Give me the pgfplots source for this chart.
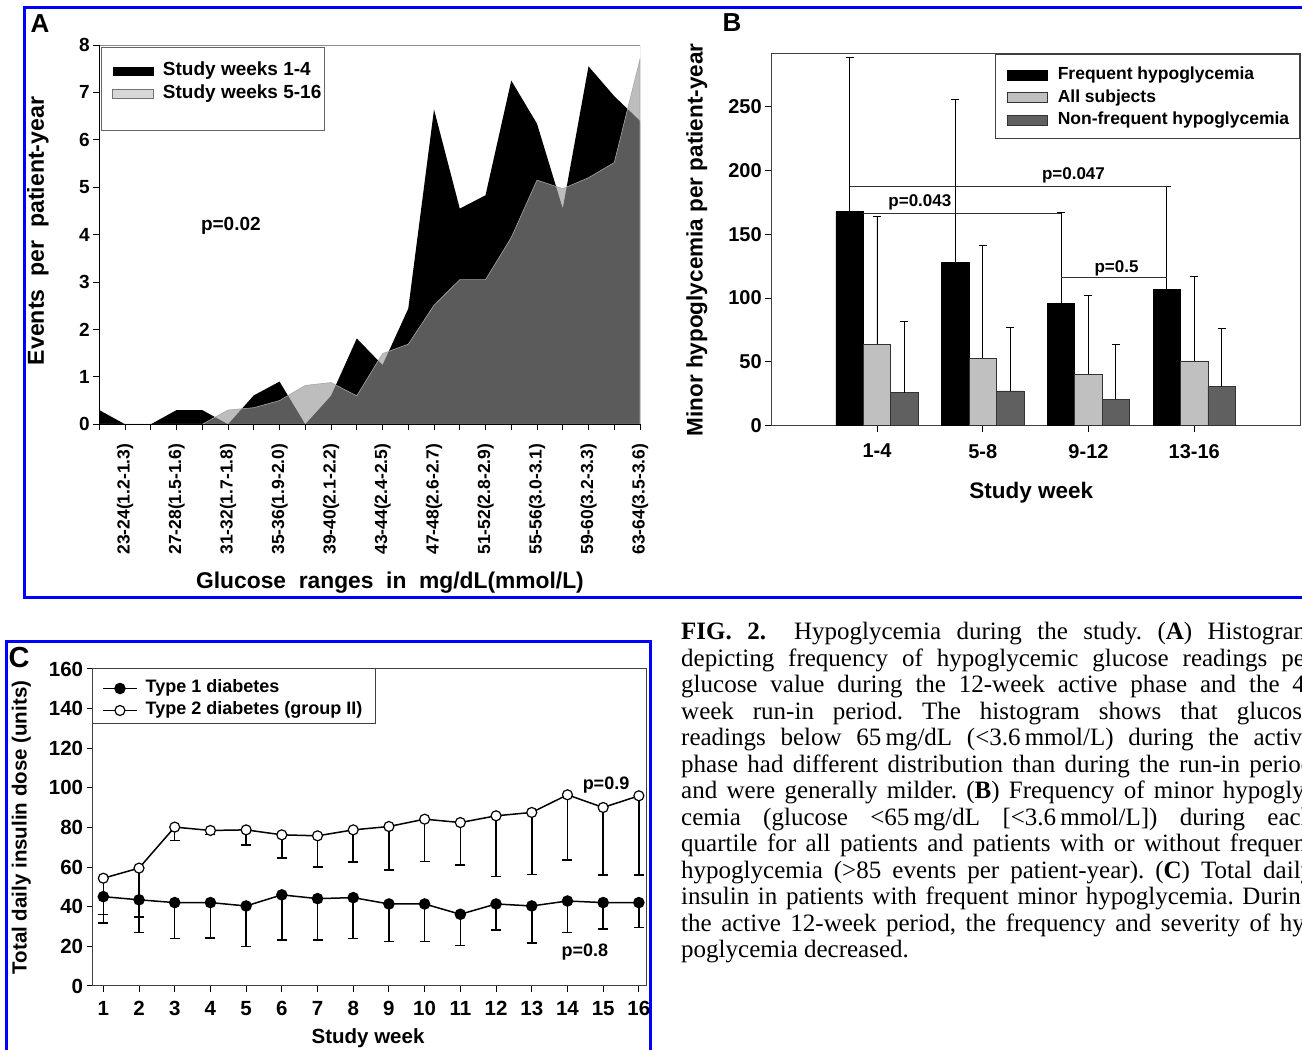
\documentclass[border=0pt]{standalone}
\usepackage{fontspec}
\setmainfont{Liberation Sans}
\newfontfamily\capfont{Liberation Serif}
\usepackage{pgfplots}
\pgfplotsset{compat=1.18}
\definecolor{agray}{RGB}{149,149,149}
\definecolor{lgray}{RGB}{192,192,192}
\definecolor{dgray}{RGB}{96,96,96}
\definecolor{fblue}{RGB}{0,0,255}
\newcommand{\fs}[1]{\fontsize{#1}{#1}\selectfont\bfseries}
\newcommand{\cf}{\capfont\fontsize{25}{26.5}\selectfont\frenchspacing}
\begin{document}
\begin{tikzpicture}
\useasboundingbox (0,0) rectangle (1302pt,1050pt);
\clip (0,0) rectangle (1302pt,1050pt);
\fill[white] (0,0) rectangle (1302pt,1050pt);
\draw[fblue, line width=3pt] (24.5pt,1042.5pt) rectangle (1320pt,452.5pt);
\draw[fblue, line width=3pt] (6.5pt,408pt) rectangle (650pt,-10pt);
\node[font=\fs{26}] at (40pt,1026pt) {A};
\node[font=\fs{26}] at (732pt,1027pt) {B};
\node[font=\fs{29}] at (19pt,392pt) {C};

% ---------------- Panel A
\begin{axis}[at={(99.3pt,625.7pt)}, anchor=south west, scale only axis,
  width=540.7pt, height=379.3pt, xmin=0, xmax=21, ymin=0, ymax=8,
  axis x line*=bottom, axis y line*=left, axis on top,
  axis line style={black, line width=0.8pt},
  tick style={black, line width=0.8pt}, tick align=outside,
  major tick length=6pt, minor tick length=6pt,
  ytick={0,...,8}, xtick={1,3,...,21}, minor xtick={0,2,...,20},
  xticklabels={23-24(1.2-1.3),27-28(1.5-1.6),31-32(1.7-1.8),35-36(1.9-2.0),39-40(2.1-2.2),43-44(2.4-2.5),47-48(2.6-2.7),51-52(2.8-2.9),55-56(3.0-3.1),59-60(3.2-3.3),63-64(3.5-3.6)},
  /pgf/number format/assume math mode=true,
  yticklabel style={font=\fs{19}},
  xticklabel style={font=\fs{17.5}, yshift=-10pt, rotate=90, anchor=east},
  xlabel={Glucose\ \ ranges\ \ in\ \ mg/dL(mmol/L)},
  ylabel={Events\ \ per\ \ patient-year},
  xlabel style={font=\fs{22.8}, at={(axis description cs:0.5376,-0.418)}, anchor=center},
  ylabel style={font=\fs{23.1}, at={(axis description cs:-0.1134,0.5096)}, anchor=center},
  legend style={draw=none, fill=none, at={(axis description cs:0.0179,0.9007)}, anchor=west,
    font=\fs{19}, column sep=9pt, row sep=4pt, nodes={inner sep=0pt, text height=14pt, text depth=5pt}},
  legend cell align=left]
\addplot[fill=black, draw=none, legend image code/.code={\fill[black] (0pt,-4.5pt) rectangle (41pt,4.5pt);}]
 coordinates {(0,0.30) (1,0) (2,0) (3,0.30) (4,0.30) (5,0) (6,0.61) (7,0.90) (8,0) (9,0.60) (10,1.81) (11,1.25) (12,2.44) (13,6.64) (14,4.55) (15,4.83) (16,7.25) (17,6.34) (18,4.55) (19,7.55) (20,6.92) (21,6.40)} \closedcycle;
\addlegendentry{Study weeks 1-4}
\addplot[fill=agray, fill opacity=0.616, draw=black!35, draw opacity=1, line width=0.6pt,
  legend image code/.code={\draw[black!55, fill=lgray, line width=0.8pt] (0pt,-4.5pt) rectangle (41pt,4.5pt);}]
 coordinates {(0,0) (1,0) (2,0) (3,0) (4,0) (5,0.30) (6,0.35) (7,0.50) (8,0.82) (9,0.88) (10,0.60) (11,1.49) (12,1.69) (13,2.51) (14,3.05) (15,3.05) (16,3.94) (17,5.15) (18,4.97) (19,5.20) (20,5.52) (21,7.70)} \closedcycle;
\addlegendentry{Study weeks 5-16}
\draw[black!45, line width=0.8pt] (rel axis cs:0,1) -- (rel axis cs:1,1) -- (rel axis cs:1,0);
\draw[black!60, line width=0.8pt] (rel axis cs:0.0031,0.7759) rectangle (rel axis cs:0.4156,0.9947);
\node[font=\fs{19}] at (axis cs:5.11,4.19) {p=0.02};
\end{axis}

% ---------------- Panel B
\begin{axis}[at={(771.2pt,624.3pt)}, anchor=south west, scale only axis,
  width=528.8pt, height=372.6pt, xmin=0, xmax=5, ymin=0, ymax=292,
  xtick={1,2,3,4}, xticklabels={1-4,5-8,9-12,13-16}, ytick={0,50,...,250},
  xtick pos=bottom, ytick pos=left, tick align=outside, major tick length=6pt,
  axis line style={black!75, line width=0.8pt}, tick style={black, line width=0.8pt},
  /pgf/number format/assume math mode=true,
  ticklabel style={font=\fs{20}},
  xticklabel style={yshift=-9pt},
  xlabel={Study week}, ylabel={Minor hypoglycemia per patient-year},
  xlabel style={font=\fs{22.5}, at={(axis description cs:0.4917,-0.1793)}, anchor=center},
  ylabel style={font=\fs{22.5}, at={(axis description cs:-0.1406,0.4985)}, anchor=center},
  legend style={draw=none, fill=none, at={(axis description cs:0.4402,0.881)}, anchor=west,
    font=\fs{17.5}, column sep=10pt, row sep=5pt, nodes={inner sep=0pt, text height=13.5pt, text depth=4pt}},
  legend cell align=left,
  every error bar/.style={}]
\addplot[ybar, bar width=27.4pt, bar shift=0pt, fill=black, draw=black, line width=0.6pt,
  legend image code/.code={\draw[black, fill=black] (0pt,-5pt) rectangle (40pt,5pt);},
  error bars/.cd, y dir=plus, y explicit, error bar style={line width=0.8pt, black},
  error mark options={rotate=90, line width=0.8pt, mark size=4pt, black}]
 coordinates {(0.741,167.7) += (0,121.0) (1.741,128.0) += (0,127.7) (2.741,95.6) += (0,71.6) (3.741,107.1) += (0,80.7)};
\addlegendentry{Frequent hypoglycemia}
\addplot[ybar, bar width=27.4pt, bar shift=0pt, fill=lgray, draw=black!80, line width=0.6pt,
  legend image code/.code={\draw[black!80, fill=lgray] (0pt,-5pt) rectangle (40pt,5pt);},
  error bars/.cd, y dir=plus, y explicit, error bar style={line width=0.8pt, black},
  error mark options={rotate=90, line width=0.8pt, mark size=4pt, black}]
 coordinates {(1,64.0) += (0,100.3) (2,52.8) += (0,88.8) (3,40.2) += (0,61.7) (4,50.7) += (0,66.6)};
\addlegendentry{All subjects}
\addplot[ybar, bar width=27.4pt, bar shift=0pt, fill=dgray, draw=black!80, line width=0.6pt,
  legend image code/.code={\draw[black!80, fill=dgray] (0pt,-5pt) rectangle (40pt,5pt);},
  error bars/.cd, y dir=plus, y explicit, error bar style={line width=0.8pt, black},
  error mark options={rotate=90, line width=0.8pt, mark size=4pt, black}]
 coordinates {(1.259,25.9) += (0,56.1) (2.259,27.2) += (0,49.8) (3.259,20.6) += (0,43.1) (4.259,30.6) += (0,45.7)};
\addlegendentry{Non-frequent hypoglycemia}
\addplot[black!80, line width=0.8pt, forget plot] coordinates {(0.741,187.5) (3.741,187.5)};
\addplot[black!80, line width=0.8pt, forget plot] coordinates {(0.8705,166.4) (2.741,166.4)};
\addplot[black!80, line width=0.8pt, forget plot] coordinates {(2.741,116.0) (3.741,116.0)};
\node[font=\fs{17}] at (axis cs:2.858,196.5) {p=0.047};
\node[font=\fs{17}] at (axis cs:1.406,174.8) {p=0.043};
\node[font=\fs{17}] at (axis cs:3.265,123.3) {p=0.5};
\draw[black!75, line width=0.8pt] (rel axis cs:0.4233,0.7706) rectangle (rel axis cs:0.9985,0.9966);
\end{axis}

% ---------------- Panel C
\begin{axis}[at={(92.6pt,64pt)}, anchor=south west, scale only axis,
  width=553.4pt, height=317pt, xmin=0.7, xmax=16.2, ymin=0, ymax=160,
  xtick={1,...,16}, ytick={0,20,...,160},
  xtick pos=bottom, ytick pos=left, tick align=outside, major tick length=6pt,
  axis line style={black!75, line width=1pt}, tick style={black, line width=1pt},
  /pgf/number format/assume math mode=true,
  ticklabel style={font=\fs{20.5}},
  xticklabel style={yshift=-6pt},
  xlabel={Study week}, ylabel={Total daily insulin dose (units)},
  xlabel style={font=\fs{20.5}, at={(axis description cs:0.4977,-0.164)}, anchor=center},
  ylabel style={font=\fs{20.5}, at={(axis description cs:-0.129,0.50)}, anchor=center},
  legend image code/.code={\draw[mark repeat=2, mark phase=2, #1] plot coordinates {(0pt,0pt) (17pt,0pt) (34pt,0pt)};},
  legend style={draw=none, fill=none, at={(axis description cs:0.0116,0.9038)}, anchor=west,
    font=\fs{18}, column sep=8pt, row sep=4pt, nodes={inner sep=0pt, text height=13.5pt, text depth=4.5pt}},
  legend cell align=left, reverse legend]
\addplot[black, line width=1.5pt, mark=*, mark size=5pt, mark options={fill=white, line width=1.2pt},
  error bars/.cd, y dir=minus, y explicit, error bar style={line width=1.5pt, black},
  error mark options={rotate=90, line width=1.5pt, mark size=5pt, black}]
 coordinates {(1,54.4) -= (0,18.2) (2,59.5) -= (0,24.8) (3,80.2) -= (0,6.8) (4,78.5) -= (0,2.0) (5,78.8) -= (0,7.6) (6,76.3) -= (0,11.8) (7,75.8) -= (0,15.8) (8,78.8) -= (0,16.3) (9,80.5) -= (0,21.9) (10,84.2) -= (0,21.4) (11,82.5) -= (0,21.4) (12,85.9) -= (0,30.7) (13,87.6) -= (0,31.2) (14,96.5) -= (0,32.8) (15,90.1) -= (0,34.0) (16,96.0) -= (0,39.9)};
\addlegendentry{Type 2 diabetes (group II)}
\addplot[black, line width=1.5pt, mark=*, mark size=5pt, mark options={fill=black},
  error bars/.cd, y dir=minus, y explicit, error bar style={line width=1.5pt, black},
  error mark options={rotate=90, line width=1.5pt, mark size=5pt, black}]
 coordinates {(1,45.1) -= (0,13.4) (2,43.5) -= (0,16.5) (3,42.1) -= (0,18.2) (4,42.1) -= (0,17.8) (5,40.4) -= (0,20.5) (6,46.0) -= (0,22.8) (7,44.1) -= (0,20.9) (8,44.6) -= (0,20.5) (9,41.4) -= (0,19.0) (10,41.4) -= (0,19.0) (11,36.2) -= (0,15.8) (12,41.4) -= (0,13.1) (13,40.4) -= (0,18.8) (14,42.9) -= (0,15.8) (15,42.1) -= (0,13.3) (16,42.1) -= (0,12.5)};
\addlegendentry{Type 1 diabetes}
\draw[black!75, line width=1pt] (rel axis cs:0.0007,0.8265) rectangle (rel axis cs:0.5103,1);
\node[font=\fs{18}] at (axis cs:15.08,101.5) {p=0.9};
\node[font=\fs{18}] at (axis cs:14.49,17.2) {p=0.8};
\node[font=\fs{20.5}] at (axis description cs:0.4977,1.05) {Frequent hypoglycemia};
\end{axis}

% ---------------- Caption
\node[anchor=base west, inner sep=0pt] at (681pt,410pt) {\cf\hbox to 632pt{\textbf{FIG. 2.}\hspace{0.5em} Hypoglycemia during the study. (\textbf{A}) Histogram}};
\node[anchor=base west, inner sep=0pt] at (681pt,383.5pt) {\cf\hbox to 632pt{depicting frequency of hypoglycemic glucose readings per}};
\node[anchor=base west, inner sep=0pt] at (681pt,357pt) {\cf\hbox to 632pt{glucose value during the 12-week active phase and the 4-}};
\node[anchor=base west, inner sep=0pt] at (681pt,330.5pt) {\cf\hbox to 632pt{week run-in period. The histogram shows that glucose}};
\node[anchor=base west, inner sep=0pt] at (681pt,304pt) {\cf\hbox to 632pt{readings below 65\,mg/dL (<3.6\,mmol/L) during the active}};
\node[anchor=base west, inner sep=0pt] at (681pt,277.5pt) {\cf\hbox to 632pt{phase had different distribution than during the run-in period}};
\node[anchor=base west, inner sep=0pt] at (681pt,251pt) {\cf\hbox to 632pt{and were generally milder. (\textbf{B}) Frequency of minor hypogly-}};
\node[anchor=base west, inner sep=0pt] at (681pt,224.5pt) {\cf\hbox to 632pt{cemia (glucose <65\,mg/dL [<3.6\,mmol/L]) during each}};
\node[anchor=base west, inner sep=0pt] at (681pt,198pt) {\cf\hbox to 632pt{quartile for all patients and patients with or without frequent}};
\node[anchor=base west, inner sep=0pt] at (681pt,171.5pt) {\cf\hbox to 632pt{hypoglycemia (>85 events per patient-year). (\textbf{C}) Total daily}};
\node[anchor=base west, inner sep=0pt] at (681pt,145pt) {\cf\hbox to 632pt{insulin in patients with frequent minor hypoglycemia. During}};
\node[anchor=base west, inner sep=0pt] at (681pt,118.5pt) {\cf\hbox to 632pt{the active 12-week period, the frequency and severity of hy-}};
\node[anchor=base west, inner sep=0pt] at (681pt,92pt) {\cf poglycemia decreased.};
\end{tikzpicture}
\end{document}
